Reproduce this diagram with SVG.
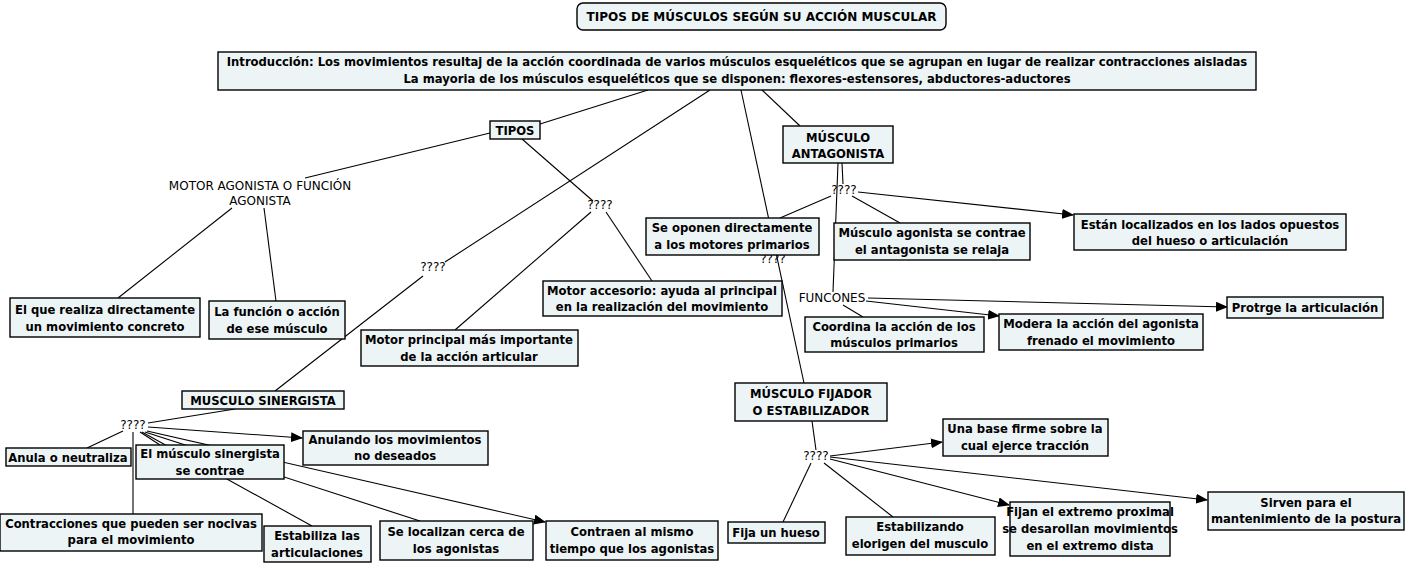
<svg xmlns="http://www.w3.org/2000/svg" width="1409" height="563" viewBox="0 0 1409 563">
<style>
.box{fill:#edf4f6;stroke:#000;stroke-width:1.4}
.t{font-family:"DejaVu Sans",Verdana,sans-serif;font-weight:bold;font-size:11.6px;text-anchor:middle;fill:#000}
.tt{font-family:"DejaVu Sans",Verdana,sans-serif;font-weight:bold;font-size:12px;text-anchor:middle;fill:#000}
.p{font-family:"DejaVu Sans",Verdana,sans-serif;font-size:12px;text-anchor:middle;fill:#000}
.c line{stroke:#000;stroke-width:1.1}
.a{marker-end:url(#ah)}
</style>
<defs>
<marker id="ah" markerUnits="userSpaceOnUse" markerWidth="12" markerHeight="10" refX="11" refY="5" orient="auto">
<path d="M0,0 L12,5 L0,10 Z" fill="#000"/>
</marker>
</defs>
<rect width="1409" height="563" fill="#fff"/>
<g class="c" id="connectors">
<line x1="648" y1="90" x2="540" y2="124"/>
<line x1="710" y1="90" x2="445" y2="262"/>
<line x1="423" y1="276" x2="275" y2="391"/>
<line x1="741" y1="90" x2="804" y2="383"/>
<line x1="762" y1="90" x2="800" y2="126"/>
<line x1="490" y1="133" x2="305" y2="178"/>
<line x1="522" y1="139" x2="593" y2="201"/>
<line x1="591" y1="212" x2="455" y2="330"/>
<line x1="606" y1="212" x2="652" y2="281"/>
<line x1="232" y1="208" x2="118" y2="298"/>
<line x1="264" y1="208" x2="276" y2="301"/>
<line x1="838" y1="163" x2="833" y2="292"/>
<line x1="842" y1="163" x2="843" y2="184"/>
<line x1="831" y1="196" x2="780" y2="218"/>
<line x1="852" y1="196" x2="900" y2="223"/>
<line class="a" x1="858" y1="192" x2="1073" y2="215"/>
<line x1="843" y1="305" x2="863" y2="317"/>
<line class="a" x1="866" y1="301" x2="999" y2="316"/>
<line class="a" x1="868" y1="298" x2="1227" y2="307"/>
<line x1="235" y1="409" x2="148" y2="423"/>
<line x1="123" y1="431" x2="87" y2="448"/>
<line x1="133" y1="432" x2="133" y2="514"/>
<line x1="140" y1="432" x2="160" y2="445"/>
<line x1="142" y1="432" x2="312" y2="526"/>
<line x1="145" y1="432" x2="420" y2="521"/>
<line class="a" x1="147" y1="431" x2="545" y2="522"/>
<line class="a" x1="148" y1="427" x2="302" y2="438"/>
<line x1="812" y1="421" x2="816" y2="450"/>
<line x1="811" y1="463" x2="783" y2="522"/>
<line x1="824" y1="463" x2="893" y2="517"/>
<line class="a" x1="830" y1="456" x2="942" y2="442"/>
<line class="a" x1="830" y1="459" x2="1009" y2="505"/>
<line class="a" x1="830" y1="457" x2="1207" y2="500"/>
</g>
<g id="labels">
<text class="p" x="260" y="190">MOTOR AGONISTA O FUNCIÓN</text>
<text class="p" x="260" y="205">AGONISTA</text>
<text class="p" x="600" y="209">????</text>
<text class="p" x="433" y="271">????</text>
<text class="p" x="844" y="194">????</text>
<text class="p" x="773" y="263">????</text>
<text class="p" x="832" y="302">FUNCONES</text>
<text class="p" x="133" y="429">????</text>
<text class="p" x="816" y="460">????</text>
</g>
<g id="title"><rect class="box" x="577" y="3" width="369" height="27" rx="6"/><text class="tt" x="761.5" y="21">TIPOS DE MÚSCULOS SEGÚN SU ACCIÓN MUSCULAR</text></g>
<g id="intro"><rect class="box" x="218" y="52" width="1038" height="38"/><text class="t" x="737" y="66">Introducción: Los movimientos resultaj de la acción coordinada de varios músculos esqueléticos que se agrupan en lugar de realizar contracciones aisladas</text><text class="t" x="737" y="83">La mayoria de los músculos esqueléticos que se disponen: flexores-estensores, abductores-aductores</text></g>
<g id="tipos"><rect class="box" x="490" y="121" width="50" height="18"/><text class="t" x="515" y="135">TIPOS</text></g>
<g id="antagonista"><rect class="box" x="783" y="126" width="110" height="37"/><text class="t" x="838" y="142">MÚSCULO</text><text class="t" x="838" y="158">ANTAGONISTA</text></g>
<g id="seoponen"><rect class="box" x="646" y="218" width="173" height="37"/><text class="t" x="732" y="232">Se oponen directamente</text><text class="t" x="732" y="249">a los motores primarios</text></g>
<g id="agonistacontrae"><rect class="box" x="834" y="223" width="196" height="37"/><text class="t" x="932" y="237">Músculo agonista se contrae</text><text class="t" x="932" y="254">el antagonista se relaja</text></g>
<g id="estan"><rect class="box" x="1074" y="214" width="272" height="36"/><text class="t" x="1210" y="229">Están localizados en los lados opuestos</text><text class="t" x="1210" y="245">del hueso o articulación</text></g>
<g id="elque"><rect class="box" x="10" y="298" width="190" height="39"/><text class="t" x="105" y="314">El que realiza directamente</text><text class="t" x="105" y="331">un movimiento concreto</text></g>
<g id="lafuncion"><rect class="box" x="209" y="301" width="136" height="38"/><text class="t" x="277" y="316">La función o acción</text><text class="t" x="277" y="333">de ese músculo</text></g>
<g id="accesorio"><rect class="box" x="543" y="281" width="239" height="35"/><text class="t" x="662" y="295">Motor accesorio: ayuda al principal</text><text class="t" x="662" y="311">en la realización del movimiento</text></g>
<g id="protrge"><rect class="box" x="1227" y="297" width="156" height="21"/><text class="t" x="1305" y="312">Protrge la articulación</text></g>
<g id="coordina"><rect class="box" x="805" y="317" width="179" height="35"/><text class="t" x="894" y="331">Coordina la acción de los</text><text class="t" x="894" y="347">músculos primarios</text></g>
<g id="modera"><rect class="box" x="999" y="314" width="204" height="36"/><text class="t" x="1101" y="328">Modera la acción del agonista</text><text class="t" x="1101" y="345">frenado el movimiento</text></g>
<g id="principal"><rect class="box" x="361" y="330" width="217" height="36"/><text class="t" x="469" y="344">Motor principal más importante</text><text class="t" x="469" y="361">de la acción articular</text></g>
<g id="sinergista"><rect class="box" x="182" y="391" width="162" height="18"/><text class="t" x="263" y="405">MUSCULO SINERGISTA</text></g>
<g id="fijador"><rect class="box" x="735" y="383" width="152" height="38"/><text class="t" x="811" y="398">MÚSCULO FIJADOR</text><text class="t" x="811" y="415">O ESTABILIZADOR</text></g>
<g id="anula"><rect class="box" x="6" y="448" width="125" height="18"/><text class="t" x="68" y="462">Anula o neutraliza</text></g>
<g id="elmusculo"><rect class="box" x="136" y="445" width="148" height="34"/><text class="t" x="210" y="458">El músculo sinergista</text><text class="t" x="210" y="475">se contrae</text></g>
<g id="anulando"><rect class="box" x="303" y="431" width="185" height="34"/><text class="t" x="395" y="444">Anulando los movimientos</text><text class="t" x="395" y="460">no deseados</text></g>
<g id="contracciones"><rect class="box" x="0" y="514" width="262" height="37"/><text class="t" x="131" y="528">Contracciones que pueden ser nocivas</text><text class="t" x="131" y="544">para el movimiento</text></g>
<g id="estabiliza"><rect class="box" x="264" y="526" width="107" height="36"/><text class="t" x="317" y="540">Estabiliza las</text><text class="t" x="317" y="557">articulaciones</text></g>
<g id="localizan"><rect class="box" x="380" y="521" width="153" height="39"/><text class="t" x="456" y="536">Se localizan cerca de</text><text class="t" x="456" y="553">los agonistas</text></g>
<g id="contraen"><rect class="box" x="546" y="521" width="172" height="39"/><text class="t" x="632" y="536">Contraen al mismo</text><text class="t" x="632" y="553">tiempo que los agonistas</text></g>
<g id="base"><rect class="box" x="943" y="419" width="165" height="37"/><text class="t" x="1025" y="433">Una base firme sobre la</text><text class="t" x="1025" y="450">cual ejerce tracción</text></g>
<g id="fija"><rect class="box" x="728" y="522" width="97" height="21"/><text class="t" x="776" y="537">Fija un hueso</text></g>
<g id="estabilizando"><rect class="box" x="846" y="517" width="149" height="38"/><text class="t" x="920" y="531">Estabilizando</text><text class="t" x="920" y="548">elorigen del musculo</text></g>
<g id="fijan"><rect class="box" x="1010" y="502" width="160" height="54"/><text class="t" x="1090" y="516">Fijan el extremo proximal</text><text class="t" x="1090" y="533">se desarollan movimientos</text><text class="t" x="1090" y="550">en el extremo dista</text></g>
<g id="sirven"><rect class="box" x="1208" y="492" width="196" height="38"/><text class="t" x="1306" y="507">Sirven para el</text><text class="t" x="1306" y="523">mantenimiento de la postura</text></g>
</svg>
